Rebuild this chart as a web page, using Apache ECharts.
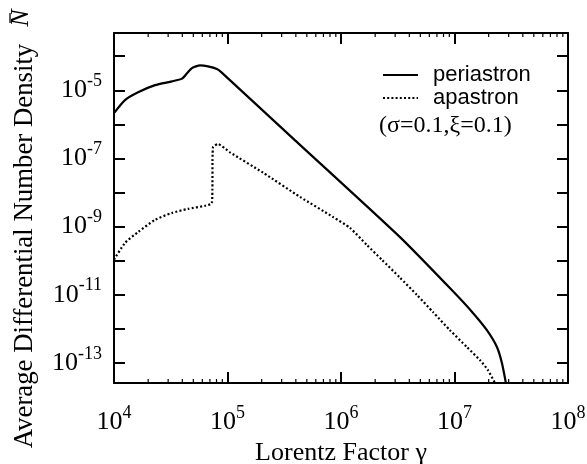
<!DOCTYPE html>
<html>
<head>
<meta charset="utf-8">
<script src="https://cdn.jsdelivr.net/npm/echarts@6/dist/echarts.min.js"></script>
<style>
html, body { margin: 0; padding: 0; background: #fff; }
#chart { width: 587px; height: 464px; }
</style>
</head>
<body>
<div id="chart"></div>
<script>
// Lorentz factor gamma and average differential number density, periastron
const gammaPeri = [1.0e4, 1.25e4, 1.63e4, 2.30e4, 3.24e4, 3.97e4, 4.40e4, 4.86e4, 5.73e4, 6.73e4, 8.07e4, 8.95e4,
                   3.94e5, 3.31e6, 9.70e6, 1.46e7, 1.93e7, 2.37e7, 2.62e7, 2.84e7];
const densPeri  = [2.14e-6, 5.13e-6, 8.7e-6, 1.41e-5, 1.82e-5, 2.19e-5, 3.16e-5, 4.47e-5, 5.37e-5, 5.01e-5, 4.17e-5, 3.24e-5,
                   3.39e-7, 4.90e-10, 1.26e-11, 2.88e-12, 9.12e-13, 2.88e-13, 9.77e-14, 2.51e-14];

// Same quantities at apastron
const gammaApa = [1.0e4, 1.25e4, 1.63e4, 2.30e4, 3.24e4, 4.49e4, 6.34e4, 7.29e4, 7.45e4, 8.24e4,
                  1.05e5, 2.06e5, 4.36e5, 8.51e5, 1.20e6, 1.69e6, 2.30e6, 3.31e6, 4.68e6, 6.47e6,
                  9.12e6, 1.29e7, 1.68e7, 1.97e7, 2.28e7];
const densApa  = [1.07e-10, 3.31e-10, 6.92e-10, 1.58e-9, 2.51e-9, 3.31e-9, 4.07e-9, 4.90e-9, 2.14e-7, 2.63e-7,
                  1.51e-7, 3.80e-8, 7.41e-9, 1.91e-9, 9.12e-10, 2.88e-10, 1.05e-10, 3.16e-11, 9.77e-12, 3.09e-12,
                  9.12e-13, 2.88e-13, 1.20e-13, 6.17e-14, 2.51e-14];

const seriesNames = ['periastron', 'apastron'];
const paramText = '(σ=0.1,ξ=0.1)';
const xTitle = 'Lorentz Factor γ';
const yTitle = 'Average Differential Number Density';

// Axis ranges
const xMin = 1e4, xMax = 1e8;
const yMin = Math.pow(10, -13.59), yMax = Math.pow(10, -3.32);

// Major y ticks every decade, labels on every other one
const yTickValues  = [1e-4, 1e-5, 1e-6, 1e-7, 1e-8, 1e-9, 1e-10, 1e-11, 1e-12, 1e-13];
const yLabelValues = [1e-5, 1e-7, 1e-9, 1e-11, 1e-13];
// Minor tick multipliers inside each x decade
const minorMultipliers = [2, 3, 4, 5, 6, 7, 8, 9];
const minorDecades = [1e4, 1e5, 1e6, 1e7];

const minorTickValues = [];
minorDecades.forEach(d => minorMultipliers.forEach(m => minorTickValues.push([m * d, 1e-8])));

const serif = 'Liberation Serif';
const sans = 'Liberation Sans';

function zip(a, b) { return a.map((v, i) => [v, b[i]]); }

function powerLabel(value) {
  const e = Math.round(Math.log10(value));
  if (Math.abs(Math.log10(value) - e) > 0.01) return '';
  return '{b|10}{s|' + e + '}';
}

const richPow = {
  b: { fontFamily: serif, fontSize: 26, color: '#000', lineHeight: 26 },
  s: { fontFamily: serif, fontSize: 18, color: '#000', padding: [0, 0, 18, 0] }
};

const axisLineStyle = { color: '#000', width: 2 };
const majorTick = { show: true, inside: true, length: 11, lineStyle: { color: '#000', width: 2 } };

const chart = echarts.init(document.getElementById('chart'), null, { renderer: 'canvas' });

chart.setOption({
  animation: false,
  backgroundColor: '#fff',
  grid: { left: 114, right: 19, top: 33, bottom: 81, containLabel: false, outerBoundsMode: 'none' },
  legend: {
    data: seriesNames,
    orient: 'vertical',
    left: 382,
    top: 64,
    padding: 0,
    itemWidth: 35,
    itemHeight: 14,
    itemGap: 1,
    selectedMode: false,
    itemStyle: { opacity: 0 },
    textStyle: { fontFamily: sans, fontSize: 22, color: '#000', lineHeight: 22, padding: [0, 0, 0, 10] }
  },
  xAxis: [
    {
      type: 'log', logBase: 10, min: xMin, max: xMax, interval: 1, position: 'bottom',
      axisLine: { lineStyle: axisLineStyle },
      axisTick: majorTick,
      splitLine: { show: false },
      axisLabel: { margin: 21, formatter: v => powerLabel(v), rich: richPow },
      name: xTitle, nameLocation: 'middle', nameGap: 54,
      nameTextStyle: { fontFamily: serif, fontSize: 26, color: '#000' }
    },
    {
      type: 'log', logBase: 10, min: xMin, max: xMax, interval: 1, position: 'top',
      axisLine: { lineStyle: axisLineStyle },
      axisTick: majorTick,
      splitLine: { show: false },
      axisLabel: { show: false }
    }
  ],
  yAxis: [
    {
      type: 'log', logBase: 10, min: yMin, max: yMax, position: 'left',
      axisLine: { lineStyle: axisLineStyle },
      axisTick: Object.assign({ customValues: yTickValues }, majorTick),
      splitLine: { show: false },
      axisLabel: { margin: 12, customValues: yLabelValues, formatter: v => powerLabel(v), rich: richPow },
      name: yTitle, nameLocation: 'middle', nameGap: 76,
      nameTextStyle: { fontFamily: serif, fontSize: 26.8, color: '#000', padding: [0, 76, 0, 0] }
    },
    {
      type: 'log', logBase: 10, min: yMin, max: yMax, position: 'right',
      axisLine: { lineStyle: axisLineStyle },
      axisTick: Object.assign({ customValues: yTickValues }, majorTick),
      splitLine: { show: false },
      axisLabel: { show: false }
    }
  ],
  graphic: [
    {
      type: 'text', x: 379, y: 114,
      style: { text: paramText, font: '24px "Liberation Serif"', fill: '#000' }
    },
    {
      // overbar of the axis symbol
      type: 'line', shape: { x1: 10, y1: 13, x2: 10, y2: 23 },
      style: { stroke: '#000', lineWidth: 1.3 }
    },
    {
      // axis symbol N, turned like the axis title
      type: 'text', x: 34, y: 18, rotation: Math.PI / 2,
      style: { text: 'N', font: 'italic 26px "Liberation Serif"', fill: '#000', align: 'center', verticalAlign: 'bottom' }
    }
  ],
  series: [
    {
      name: seriesNames[0], type: 'line', xAxisIndex: 0, yAxisIndex: 0,
      data: zip(gammaPeri, densPeri),
      showSymbol: false, symbol: 'none', smooth: 0.2,
      lineStyle: { color: '#000', width: 2.2, type: 'solid' },
      itemStyle: { color: '#000' }
    },
    {
      name: seriesNames[1], type: 'line', xAxisIndex: 0, yAxisIndex: 0,
      data: zip(gammaApa, densApa),
      showSymbol: false, symbol: 'none', smooth: 0.2,
      lineStyle: { color: '#000', width: 2.2, type: [2, 2.2] },
      itemStyle: { color: '#000' }
    },
    {
      // log-spaced minor ticks along the top and bottom frame
      name: 'minor', type: 'custom', xAxisIndex: 0, yAxisIndex: 0,
      data: minorTickValues, silent: true, clip: false,
      renderItem: function (params, api) {
        const cs = params.coordSys;
        const x = api.coord([api.value(0), api.value(1)])[0];
        const yb = cs.y + cs.height, yt = cs.y;
        return {
          type: 'group',
          children: [
            { type: 'line', shape: { x1: x, y1: yb, x2: x, y2: yb - 4 }, style: { stroke: '#000', lineWidth: 1.2 } },
            { type: 'line', shape: { x1: x, y1: yt, x2: x, y2: yt + 4 }, style: { stroke: '#000', lineWidth: 1.2 } }
          ]
        };
      }
    }
  ]
});
</script>
</body>
</html>
